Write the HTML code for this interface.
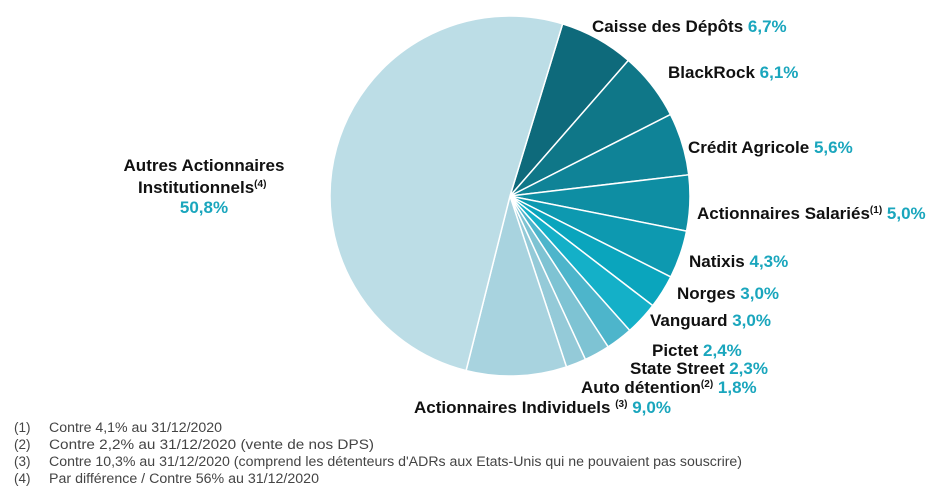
<!DOCTYPE html>
<html><head><meta charset="utf-8"><style>
body{margin:0;background:#fff}
svg{display:block;font-family:"Liberation Sans",Arial,sans-serif}
.l{font-weight:bold;font-size:17px;fill:#111}
.v{font-weight:bold;font-size:17px;fill:#1aa6bd}
.f{font-size:13.5px;fill:#444}
</style></head><body>
<svg id="c" width="940" height="489" viewBox="0 0 940 489">
<g id="slices"></g>
<g>
<text class="l" x="592" y="32">Caisse des Dépôts <tspan class="v">6,7%</tspan></text>
<text class="l" x="668" y="78">BlackRock <tspan class="v">6,1%</tspan></text>
<text class="l" x="688" y="153">Crédit Agricole  <tspan class="v">5,6%</tspan></text>
<text class="l" x="697" y="219">Actionnaires Salariés<tspan font-size="10" dy="-6">(1)</tspan> <tspan class="v" dy="6">5,0%</tspan></text>
<text class="l" x="689" y="267">Natixis <tspan class="v">4,3%</tspan></text>
<text class="l" x="677" y="299">Norges <tspan class="v">3,0%</tspan></text>
<text class="l" x="650" y="326">Vanguard <tspan class="v">3,0%</tspan></text>
<text class="l" x="652" y="356">Pictet <tspan class="v">2,4%</tspan></text>
<text class="l" x="630" y="374">State Street <tspan class="v">2,3%</tspan></text>
<text class="l" x="581" y="393">Auto détention<tspan font-size="10" dy="-6">(2)</tspan>  <tspan class="v" dy="6">1,8%</tspan></text>
<text class="l" x="414" y="413">Actionnaires Individuels <tspan font-size="10" dy="-6">(3)</tspan> <tspan class="v" dy="6">9,0%</tspan></text>
<text class="l" x="204" y="171" text-anchor="middle">Autres Actionnaires</text>
<text class="l" x="138" y="193">Institutionnels<tspan font-size="10" dy="-6">(4)</tspan></text>
<text class="v" x="204" y="213" text-anchor="middle">50,8%</text>
</g>
<g>
<text class="f" x="14" y="432">(1)</text><text class="f" x="49" y="432" textLength="173" lengthAdjust="spacingAndGlyphs">Contre 4,1% au 31/12/2020</text>
<text class="f" x="14" y="449">(2)</text><text class="f" x="49" y="449" textLength="325" lengthAdjust="spacingAndGlyphs">Contre 2,2% au 31/12/2020 (vente de nos DPS)</text>
<text class="f" x="14" y="466">(3)</text><text class="f" x="49" y="466" textLength="693" lengthAdjust="spacingAndGlyphs">Contre 10,3% au 31/12/2020 (comprend les détenteurs d'ADRs aux Etats-Unis qui ne pouvaient pas souscrire)</text>
<text class="f" x="14" y="483">(4)</text><text class="f" x="49" y="483" textLength="270" lengthAdjust="spacingAndGlyphs">Par différence / Contre 56% au 31/12/2020</text>
</g>
</svg>
<script>
const categories = ["Caisse des Dépôts","BlackRock","Crédit Agricole","Actionnaires Salariés","Natixis","Norges","Vanguard","Pictet","State Street","Auto détention","Actionnaires Individuels","Autres Actionnaires Institutionnels"];
const values = [6.7,6.1,5.6,5.0,4.3,3.0,3.0,2.4,2.3,1.8,9.0,50.8];
const colors = ["#0e6a7b","#0f7788","#0f8397","#0e8ea3","#0d99b0","#0aa5bd","#14b0c8","#4db5cb","#7ec3d3","#94cad8","#a8d3df","#bcdde6"];
const cx=510, cy=196, r=180, startDeg=17;
const g=document.getElementById('slices');
const total=values.reduce((a,b)=>a+b,0);
function pt(deg){const a=(deg-90)*Math.PI/180;return [cx+r*Math.cos(a),cy+r*Math.sin(a)];}
let acc=startDeg;
values.forEach((v,i)=>{
  const sweep=v/total*360;
  const p0=pt(acc), p1=pt(acc+sweep);
  const path=document.createElementNS('http://www.w3.org/2000/svg','path');
  path.setAttribute('d',`M${cx},${cy} L${p0[0]},${p0[1]} A${r},${r} 0 ${sweep>180?1:0} 1 ${p1[0]},${p1[1]} Z`);
  path.setAttribute('fill',colors[i]);
  path.setAttribute('stroke','#fff');
  path.setAttribute('stroke-width','1.5');
  
  
  g.appendChild(path);
  acc+=sweep;
});
</script>
</body></html>
